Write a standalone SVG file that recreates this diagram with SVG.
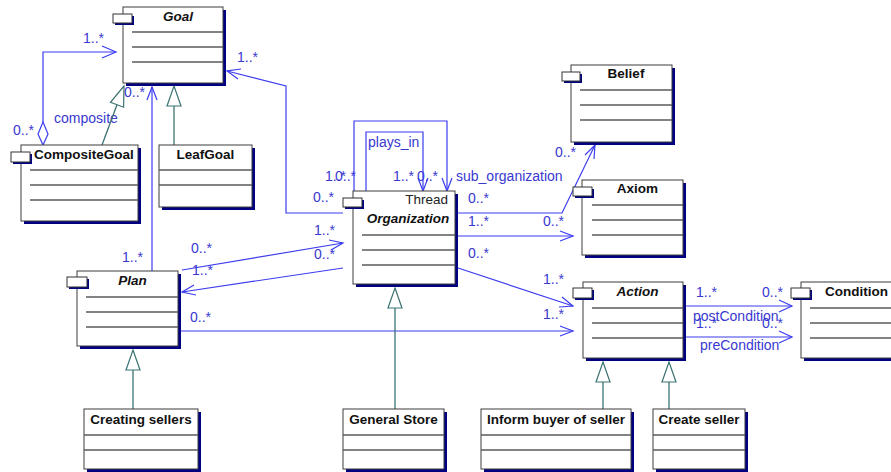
<svg xmlns="http://www.w3.org/2000/svg" width="891" height="472" viewBox="0 0 891 472">
  <style>
    .shadow { fill: #000080; }
    .box { fill: #ffffff; stroke: #3c3c3c; stroke-width: 1; }
    .sep { stroke: #5a5a5a; stroke-width: 1.3; }
    .tab { fill: #ffffff; stroke: #333333; stroke-width: 1; }
    .title { font-family: "Liberation Sans", Arial, sans-serif; font-size: 13.5px; font-weight: bold; fill: #111111; }
    .ital { font-style: italic; }
    .stereo { font-family: "Liberation Sans", Arial, sans-serif; font-size: 13.5px; fill: #222222; }
    .assoc { fill: none; stroke: #3c3cf0; stroke-width: 1.2; }
    .gen { fill: none; stroke: #3d7272; stroke-width: 1.3; }
    .tri { fill: #ffffff; stroke: #3d7272; stroke-width: 1.2; }
    .lbl { font-family: "Liberation Sans", Arial, sans-serif; font-size: 14px; fill: #3838d0; }
  </style>
  <rect width="891" height="472" fill="#ffffff"/>

  <g id="connectors">
    <!-- multiplicities and role names -->
    <g class="lbl">
      <text x="83" y="43">1..*</text>
      <text x="13" y="135">0..*</text>
      <text x="54" y="123">composite</text>
      <text x="124" y="97">0..*</text>
      <text x="237" y="62">1..*</text>
      <text x="122" y="262">1..*</text>
      <text x="313" y="202">0..*</text>
      <text x="325" y="181">1..*</text>
      <text x="335" y="181">0..*</text>
      <text x="393" y="181">1..*</text>
      <text x="417" y="181">0..*</text>
      <text x="368" y="147">plays_in</text>
      <text x="456" y="181">sub_organization</text>
      <text x="468" y="203">0..*</text>
      <text x="555" y="157">0..*</text>
      <text x="468" y="226">1..*</text>
      <text x="543" y="226">0..*</text>
      <text x="468" y="258">0..*</text>
      <text x="543" y="284">1..*</text>
      <text x="543" y="319">1..*</text>
      <text x="190" y="322">0..*</text>
      <text x="191" y="253">0..*</text>
      <text x="192" y="275">1..*</text>
      <text x="314" y="235">1..*</text>
      <text x="314" y="259">0..*</text>
      <text x="696" y="297">1..*</text>
      <text x="762" y="297">0..*</text>
      <text x="696" y="328">1..*</text>
      <text x="762" y="328">0..*</text>
      <text x="693" y="321">postCondition</text>
      <text x="700" y="350">preCondition</text>
    </g>

    <!-- associations -->
    <g class="assoc">
      <!-- composite aggregation CompositeGoal -> Goal -->
      <polyline points="43,122 43,52 116,52"/>
      <polygon points="43,122 48,134 43,145 38,134" fill="#ffffff"/>
      <polyline points="102,46 116,52 102,58"/>
      <!-- Plan -> Goal -->
      <line x1="152" y1="271" x2="152" y2="87"/>
      <polyline points="147,100 152,87 157,100"/>
      <!-- Organization -> Goal -->
      <polyline points="343,213 286,213 286,86 227,71"/>
      <polyline points="241,69 227,71 238,79"/>
      <!-- Organization self associations -->
      <polyline points="354,191 354,121 447,121 447,191"/>
      <polyline points="442,178 447,191 452,178"/>
      <polyline points="366,191 366,132 423,132 423,191"/>
      <polyline points="418,178 423,191 428,178"/>
      <!-- Organization -> Belief -->
      <polyline points="455,213 562,213 595,145"/>
      <polyline points="594,159 595,145 585,155"/>
      <!-- Organization -> Axiom -->
      <line x1="455" y1="236" x2="573" y2="236"/>
      <polyline points="560,231 573,236 560,241"/>
      <!-- Organization -> Action -->
      <line x1="455" y1="267" x2="573" y2="306"/>
      <polyline points="562,297 573,306 559,307"/>
      <!-- Plan -> Action -->
      <line x1="180" y1="331" x2="573" y2="331"/>
      <polyline points="560,326 573,331 560,336"/>
      <!-- Plan -> Organization -->
      <line x1="182" y1="270" x2="343" y2="243"/>
      <polyline points="329,240 343,243 331,250"/>
      <!-- Organization -> Plan -->
      <line x1="343" y1="268" x2="182" y2="292"/>
      <polyline points="194,285 182,292 196,295"/>
      <!-- Action -> Condition -->
      <line x1="683" y1="306" x2="792" y2="306"/>
      <polyline points="779,300 792,306 779,312"/>
      <line x1="683" y1="337" x2="792" y2="337"/>
      <polyline points="779,331 792,337 779,343"/>
    </g>

    <!-- generalizations -->
    <g>
      <line class="gen" x1="102" y1="145" x2="117" y2="104.7"/>
      <polygon class="tri" points="124,86 123.6,107.2 110.5,102.3"/>
      <line class="gen" x1="174" y1="145" x2="174" y2="106"/>
      <polygon class="tri" points="174,86 181,106 167,106"/>
      <line class="gen" x1="133" y1="409" x2="133" y2="370"/>
      <polygon class="tri" points="133,350 140,370 126,370"/>
      <line class="gen" x1="395" y1="409" x2="395" y2="308"/>
      <polygon class="tri" points="395,288 402,308 388,308"/>
      <line class="gen" x1="603" y1="409" x2="603" y2="382"/>
      <polygon class="tri" points="603,362 610,382 596,382"/>
      <line class="gen" x1="669" y1="409" x2="669" y2="382"/>
      <polygon class="tri" points="669,362 676,382 662,382"/>
    </g>
  </g>

  <g id="Goal">
    <rect class="shadow" x="126" y="10" width="100" height="76"/>
    <rect class="box" x="123" y="7" width="100" height="76"/>
    <rect class="shadow" x="115" y="16" width="19" height="9"/>
    <rect class="tab" x="113" y="14" width="19" height="9"/>
    <text class="title ital" x="178" y="21" text-anchor="middle">Goal</text>
    <line class="sep" x1="132" y1="32" x2="223" y2="32"/>
    <line class="sep" x1="132" y1="47" x2="223" y2="47"/>
    <line class="sep" x1="132" y1="62" x2="223" y2="62"/>
  </g>

  <g id="CompositeGoal">
    <rect class="shadow" x="24" y="148" width="117" height="76"/>
    <rect class="box" x="21" y="145" width="117" height="76"/>
    <rect class="shadow" x="13" y="154" width="19" height="10"/>
    <rect class="tab" x="11" y="152" width="19" height="10"/>
    <text class="title" x="84" y="159" text-anchor="middle">CompositeGoal</text>
    <line class="sep" x1="30" y1="170" x2="138" y2="170"/>
    <line class="sep" x1="30" y1="185" x2="138" y2="185"/>
    <line class="sep" x1="30" y1="200" x2="138" y2="200"/>
  </g>

  <g id="LeafGoal">
    <rect class="shadow" x="162" y="148" width="93" height="62"/>
    <rect class="box" x="159" y="145" width="93" height="62"/>
    <text class="title" x="205.5" y="159" text-anchor="middle">LeafGoal</text>
    <line class="sep" x1="159" y1="170" x2="252" y2="170"/>
    <line class="sep" x1="159" y1="185" x2="252" y2="185"/>
  </g>

  <g id="Organization">
    <rect class="shadow" x="356" y="194" width="102" height="93"/>
    <rect class="box" x="353" y="191" width="102" height="93"/>
    <rect class="shadow" x="345" y="200" width="19" height="9"/>
    <rect class="tab" x="343" y="198" width="19" height="9"/>
    <text class="stereo" x="448" y="204" text-anchor="end">Thread</text>
    <text class="title ital" x="408" y="223" text-anchor="middle">Organization</text>
    <line class="sep" x1="362" y1="235" x2="455" y2="235"/>
    <line class="sep" x1="362" y1="250" x2="455" y2="250"/>
    <line class="sep" x1="362" y1="265" x2="455" y2="265"/>
  </g>

  <g id="Belief">
    <rect class="shadow" x="574" y="68" width="101" height="77"/>
    <rect class="box" x="571" y="65" width="101" height="77"/>
    <rect class="shadow" x="564" y="74" width="18" height="9"/>
    <rect class="tab" x="562" y="72" width="18" height="9"/>
    <text class="title" x="626" y="78" text-anchor="middle">Belief</text>
    <line class="sep" x1="580" y1="90" x2="672" y2="90"/>
    <line class="sep" x1="580" y1="105" x2="672" y2="105"/>
    <line class="sep" x1="580" y1="120" x2="672" y2="120"/>
  </g>

  <g id="Axiom">
    <rect class="shadow" x="585" y="183" width="101" height="75"/>
    <rect class="box" x="582" y="180" width="101" height="75"/>
    <rect class="shadow" x="575" y="189" width="19" height="9"/>
    <rect class="tab" x="573" y="187" width="19" height="9"/>
    <text class="title" x="637.5" y="193" text-anchor="middle">Axiom</text>
    <line class="sep" x1="592" y1="205" x2="683" y2="205"/>
    <line class="sep" x1="592" y1="220" x2="683" y2="220"/>
    <line class="sep" x1="592" y1="235" x2="683" y2="235"/>
  </g>

  <g id="Action">
    <rect class="shadow" x="586" y="285" width="100" height="76"/>
    <rect class="box" x="583" y="282" width="100" height="76"/>
    <rect class="shadow" x="575" y="290" width="19" height="10"/>
    <rect class="tab" x="573" y="288" width="19" height="10"/>
    <text class="title ital" x="637.5" y="296" text-anchor="middle">Action</text>
    <line class="sep" x1="592" y1="308" x2="683" y2="308"/>
    <line class="sep" x1="592" y1="323" x2="683" y2="323"/>
    <line class="sep" x1="592" y1="338" x2="683" y2="338"/>
  </g>

  <g id="Condition">
    <rect class="shadow" x="804" y="285" width="104" height="76"/>
    <rect class="box" x="801" y="282" width="104" height="76"/>
    <rect class="shadow" x="793" y="290" width="19" height="10"/>
    <rect class="tab" x="791" y="288" width="19" height="10"/>
    <text class="title" x="825" y="296">Condition</text>
    <line class="sep" x1="810" y1="308" x2="905" y2="308"/>
    <line class="sep" x1="810" y1="323" x2="905" y2="323"/>
    <line class="sep" x1="810" y1="338" x2="905" y2="338"/>
  </g>

  <g id="Plan">
    <rect class="shadow" x="80" y="274" width="101" height="75"/>
    <rect class="box" x="77" y="271" width="101" height="75"/>
    <rect class="shadow" x="69" y="279" width="20" height="10"/>
    <rect class="tab" x="67" y="277" width="20" height="10"/>
    <text class="title ital" x="132.5" y="285" text-anchor="middle">Plan</text>
    <line class="sep" x1="86" y1="297" x2="178" y2="297"/>
    <line class="sep" x1="86" y1="312" x2="178" y2="312"/>
    <line class="sep" x1="86" y1="327" x2="178" y2="327"/>
  </g>

  <g id="CreatingSellers">
    <rect class="shadow" x="87" y="412" width="114" height="60"/>
    <rect class="box" x="84" y="409" width="114" height="60"/>
    <text class="title" x="141" y="424" text-anchor="middle">Creating sellers</text>
    <line class="sep" x1="84" y1="435" x2="198" y2="435"/>
    <line class="sep" x1="84" y1="450" x2="198" y2="450"/>
  </g>

  <g id="GeneralStore">
    <rect class="shadow" x="346" y="412" width="101" height="60"/>
    <rect class="box" x="343" y="409" width="101" height="60"/>
    <text class="title" x="393.5" y="424" text-anchor="middle">General Store</text>
    <line class="sep" x1="343" y1="435" x2="444" y2="435"/>
    <line class="sep" x1="343" y1="450" x2="444" y2="450"/>
  </g>

  <g id="InformBuyerOfSeller">
    <rect class="shadow" x="484" y="412" width="150" height="60"/>
    <rect class="box" x="481" y="409" width="150" height="60"/>
    <text class="title" x="556" y="424" text-anchor="middle">Inform buyer of seller</text>
    <line class="sep" x1="481" y1="435" x2="631" y2="435"/>
    <line class="sep" x1="481" y1="450" x2="631" y2="450"/>
  </g>

  <g id="CreateSeller">
    <rect class="shadow" x="656" y="412" width="92" height="60"/>
    <rect class="box" x="653" y="409" width="92" height="60"/>
    <text class="title" x="699" y="424" text-anchor="middle">Create seller</text>
    <line class="sep" x1="653" y1="435" x2="745" y2="435"/>
    <line class="sep" x1="653" y1="450" x2="745" y2="450"/>
  </g>
</svg>
